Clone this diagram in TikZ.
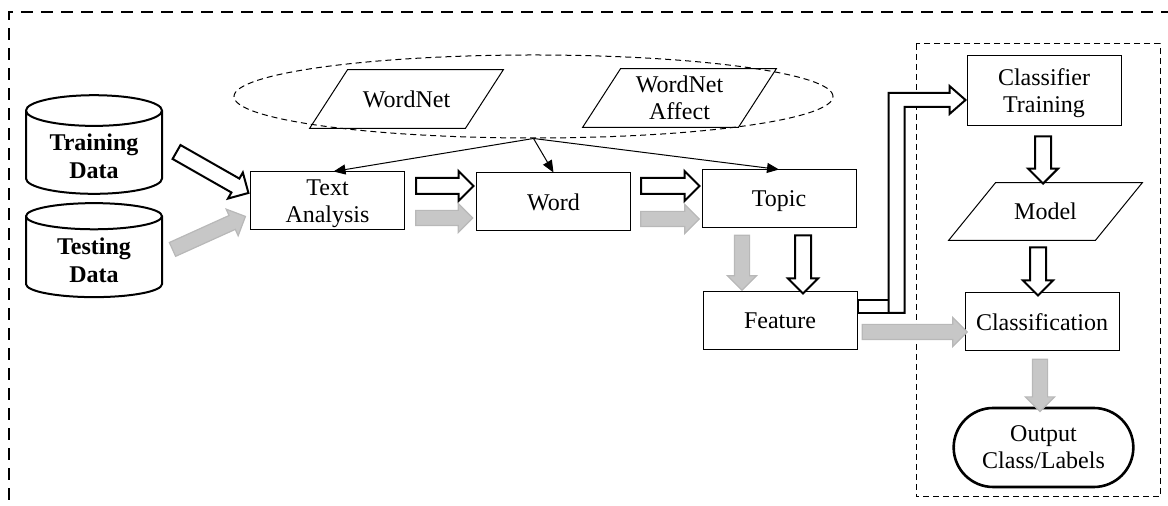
\documentclass[tikz,border=0pt]{standalone}
\usepackage{fontspec}
\setmainfont{Liberation Serif}
\usetikzlibrary{shapes.geometric,shapes.arrows,shapes.misc,arrows.meta,calc}

% block arrow between two points: style, from, to
\newcommand{\blk}[3]{%
  \path let \p1=(#2), \p2=(#3), \n1={atan2(\y2-\y1,\x2-\x1)}, \n2={veclen(\x2-\x1,\y2-\y1)} in
    node[#1, minimum height=\n2, rotate=\n1] at ($(\p1)!0.5!(\p2)$) {};}
% parallelogram outline round a node: node, slant
\newcommand{\pgram}[2]{%
  \draw[line width=0.5pt] (#1.south west) -- ([xshift=-#2]#1.south east) -- (#1.north east)
    -- ([xshift=#2]#1.north west) -- cycle;}

\begin{document}
\begin{tikzpicture}[x=0.5pt, y=-0.5pt,
  every node/.style={font=\fontsize{12}{13.5}\selectfont, align=center},
  box/.style={draw, line width=0.5pt, minimum width=77pt, minimum height=29pt, inner sep=1pt, text depth=0pt},
  db/.style={cylinder, shape border rotate=90, draw, line width=1pt, aspect=0.3,
    minimum width=68pt, minimum height=47pt, font=\fontsize{12}{14}\selectfont\bfseries},
  para/.style={minimum width=96.5pt, minimum height=29pt, inner sep=1pt, text depth=0pt},
  term/.style={rounded rectangle, draw, line width=1.3pt, minimum width=96.5pt, minimum height=39.5pt},
  wharr/.style={single arrow, draw, fill=white, line width=1pt, inner xsep=0pt, inner ysep=3.5pt,
    single arrow head extend=3.5pt, outer sep=0pt},
  gyarr/.style={wharr, draw=black!28, fill=black!22, line width=0.6pt},
  thin/.style={-{Triangle[length=6pt,width=5pt]}, line width=0.5pt}]
  \useasboundingbox (0,0) rectangle (1168,506);
  \draw[dashed, line width=1pt, dash pattern=on 6pt off 4pt] (9,540)--(9,12)--(1200,12);
  \draw[dashed, line width=0.5pt, dash pattern=on 3pt off 2pt] (916,44) rectangle (1160,497);

  % lexical resources
  \node[ellipse, draw, dashed, line width=0.5pt, dash pattern=on 3pt off 2pt,
    minimum width=299.5pt, minimum height=41.5pt] (lex) at (533.5,96.5) {};
  \node[para] (wn) at (406.5,99) {WordNet};
  \node[para] (wna) at (679.5,98) {WordNet\\Affect};
  \pgram{wn}{19pt}
  \pgram{wna}{19pt}

  % data
  \node[db] (train) at (94,156) {Training\\Data};
  \node[db] (test) at (94,260) {Testing\\Data};

  % pipeline
  \node[box] (ta) at (327.5,201) {Text\\Analysis};
  \node[box] (word) at (553.5,202) {Word};
  \node[box] (topic) at (779,199) {Topic};
  \node[box] (feat) at (780,321) {Feature};
  \node[box, minimum height=35pt] (clt) at (1044,91) {Classifier\\Training};
  \node[para, minimum height=28.5pt] (model) at (1045.5,211.5) {Model};
  \pgram{model}{23.5pt}
  \node[box] (cls) at (1042,322) {Classification};
  \node[term] (out) at (1043.5,447.5) {Output\\Class/Labels};

  \draw[thin] (lex.south) -- ([xshift=3pt]ta.north);
  \draw[thin] (lex.south) -- (word.north);
  \draw[thin] (lex.south) -- (topic.north);

  % training path (white) and testing path (gray)
  \blk{wharr}{$(train.east)+(10,-6)$}{$(ta.west)+(-5,-10)$}
  \blk{gyarr}{$(test.east)+(6,-9)$}{$(ta.west)+(-8,17)$}
  \blk{wharr}{$(ta.east)+(7,-15)$}{$(word.west)+(-6.5,-16)$}
  \blk{gyarr}{$(ta.east)+(7,17)$}{$(word.west)+(-7,16)$}
  \blk{wharr}{$(word.east)+(6,-16)$}{$(topic.west)+(-6,-13)$}
  \blk{gyarr}{$(word.east)+(6,17)$}{$(topic.west)+(-6,20)$}
  \blk{gyarr}{$(topic.south)+(-37,3)$}{$(feat.north)+(-38,-5)$}
  \blk{wharr}{$(topic.south)+(24,3)$}{$(feat.north)+(23,-2)$}
  \blk{gyarr}{$(feat.east)+(1,11)$}{$(cls.west)+(-1,10)$}
  \blk{wharr}{$(clt.south)+(-1,6)$}{$(model.north)+(-2.5,-3)$}
  \blk{wharr}{$(model.south)+(-7.5,3)$}{$(cls.north)+(-4,-1)$}
  \blk{gyarr}{$(cls.south)+(-2,4)$}{$(out.north)+(-3.5,1)$}

  % elbow to classifier training
  \draw[line width=1pt, fill=white] ($(feat.east)+(0,-21)$) rectangle ($(feat.east)+(31,-8)$);
  \draw[line width=1pt, fill=white, line join=miter] ($(feat.east)+(31,-8)$) -- ($(feat.east)+(31,-228)$)
    -- ($(clt.west)+(-17,2)$) -- ($(clt.west)+(-17,-5)$) -- ($(clt.west)+(-1,9)$)
    -- ($(clt.west)+(-17,23)$) -- ($(clt.west)+(-17,16)$) -- ($(feat.east)+(47,-214)$)
    -- ($(feat.east)+(47,-8)$) -- cycle;
\end{tikzpicture}
\end{document}
